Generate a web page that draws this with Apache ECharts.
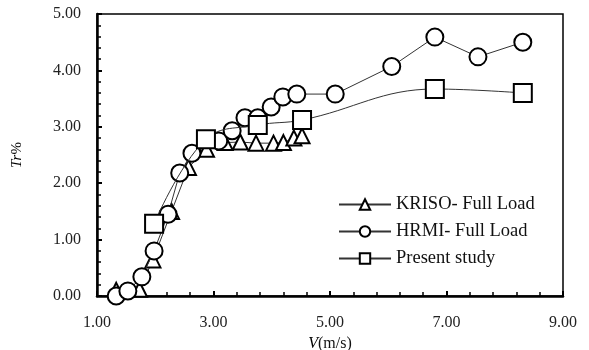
<!DOCTYPE html>
<html>
<head>
<meta charset="utf-8">
<script src="https://cdn.jsdelivr.net/npm/echarts@6/dist/echarts.min.js"></script>
<style>
	html, body { margin: 0; padding: 0; background: #fff; }
	#chart { width: 589px; height: 350px; }
</style>
</head>
<body>
<div id="chart"></div>
<script>
// speed V (m/s) and Tr%
const krisoV = [ 1.33, 1.73, 1.96, 2.28, 2.57, 2.88, 3.2, 3.46, 3.73, 4.03, 4.2, 4.38, 4.52 ];
const krisoTr = [ 0.1, 0.12, 0.64, 1.5, 2.28, 2.6, 2.72, 2.73, 2.71, 2.71, 2.72, 2.8, 2.84 ];

const hrmiV = [ 1.33, 1.53, 1.77, 1.98, 2.22, 2.42, 2.63, 3.09, 3.32, 3.54, 3.76, 3.99, 4.19, 4.43, 5.09, 6.06, 6.8, 7.54, 8.31 ];
const hrmiTr = [ 0.0, 0.09, 0.34, 0.8, 1.45, 2.18, 2.53, 2.75, 2.93, 3.16, 3.16, 3.35, 3.53, 3.58, 3.58, 4.07, 4.59, 4.24, 4.5 ];

const presentV = [ 1.98, 2.87, 3.76, 4.52, 6.8, 8.31 ];
const presentTr = [ 1.28, 2.78, 3.03, 3.12, 3.67, 3.6 ];

const seriesNames = [ "KRISO- Full Load", "HRMI- Full Load", "Present study" ];

const font = "Liberation Serif, Times New Roman, serif";

function pairs( xs, ys ) {
	return xs.map( ( x, i ) => [ x, ys[ i ] ] );
}

const markerStyle = {
	color: "#fff",
	borderColor: "#000",
	borderWidth: 2
};

const chart = echarts.init( document.getElementById( "chart" ) );
chart.setOption( {
	animation: false,
	textStyle: { fontFamily: font, color: "#000" },
	grid: {
		left: 97,
		right: 26,
		top: 14,
		bottom: 54,
		outerBoundsMode: "none",
		containLabel: false,
		show: true,
		borderColor: "#000",
		borderWidth: 1.5
	},
	legend: {
		orient: "vertical",
		left: 333,
		top: 190,
		itemWidth: 52,
		itemHeight: 13,
		itemGap: 8,
		data: seriesNames,
		textStyle: { fontFamily: font, fontSize: 18.5, color: "#111" }
	},
	xAxis: {
		type: "value",
		min: 1,
		max: 9,
		interval: 2,
		name: "{i|V}(m/s)",
		nameLocation: "middle",
		nameGap: 35,
		nameTextStyle: {
			fontFamily: font, fontSize: 16, color: "#111",
			rich: { i: { fontFamily: font, fontSize: 16, fontStyle: "italic" } }
		},
		axisLine: { lineStyle: { color: "#000", width: 2.5 } },
		axisTick: { inside: true, length: 5, lineStyle: { color: "#000", width: 2 } },
		minorTick: { show: true, splitNumber: 5, length: 4, lineStyle: { color: "#000", width: 1.5 } },
		axisLabel: { fontFamily: font, fontSize: 16, color: "#222", margin: 19, formatter: v => v.toFixed( 2 ) },
		splitLine: { show: false }
	},
	yAxis: {
		type: "value",
		min: 0,
		max: 5,
		interval: 1,
		name: "{i|Tr}%",
		nameLocation: "middle",
		nameGap: 72,
		nameRotate: 90,
		nameTextStyle: {
			fontFamily: font, fontSize: 15, color: "#111",
			rich: { i: { fontFamily: font, fontSize: 15, fontStyle: "italic" } }
		},
		axisLine: { show: true, lineStyle: { color: "#000", width: 2.5 } },
		axisTick: { show: true, inside: true, length: 5, lineStyle: { color: "#000", width: 2 } },
		minorTick: { show: true, splitNumber: 5, length: 4, lineStyle: { color: "#000", width: 1.5 } },
		axisLabel: { fontFamily: font, fontSize: 16, color: "#222", margin: 16, formatter: v => v.toFixed( 2 ) },
		splitLine: { show: false }
	},
	series: [
		{
			name: seriesNames[ 0 ],
			type: "line",
			data: pairs( krisoV, krisoTr ),
			symbol: "triangle",
			symbolSize: 15,
			itemStyle: markerStyle,
			lineStyle: { color: "#333", width: 1 },
			z: 2
		},
		{
			name: seriesNames[ 1 ],
			type: "line",
			data: pairs( hrmiV, hrmiTr ),
			symbol: "circle",
			symbolSize: 17,
			itemStyle: markerStyle,
			lineStyle: { color: "#333", width: 1 },
			z: 3
		},
		{
			name: seriesNames[ 2 ],
			type: "line",
			data: pairs( presentV, presentTr ),
			symbol: "rect",
			symbolSize: 18,
			smooth: 0.4,
			itemStyle: markerStyle,
			lineStyle: { color: "#333", width: 1 },
			z: 4
		}
	]
} );
</script>
</body>
</html>
